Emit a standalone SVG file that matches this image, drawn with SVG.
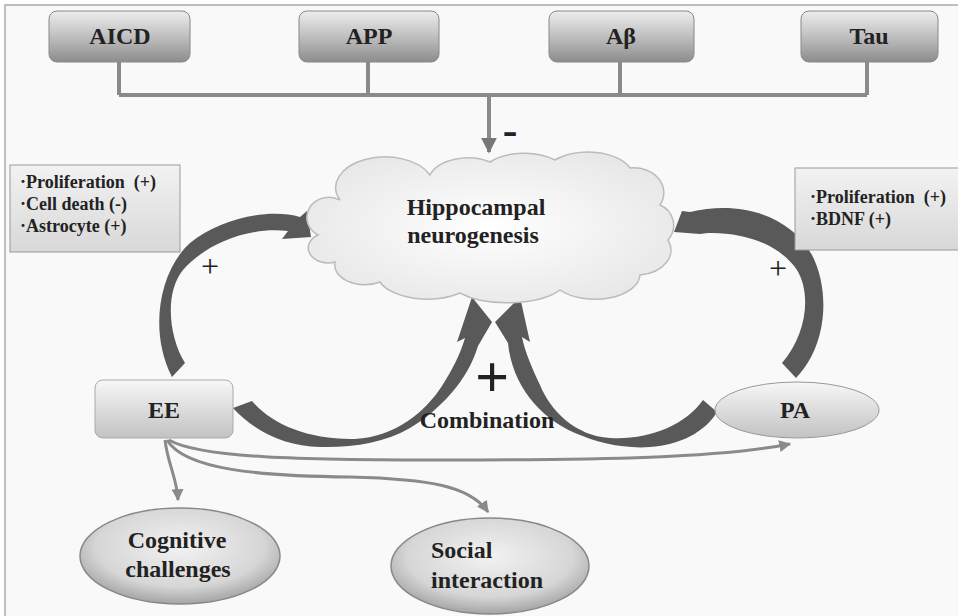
<svg xmlns="http://www.w3.org/2000/svg" width="958" height="616" viewBox="0 0 958 616">
<defs>
<linearGradient id="gTop" x1="0" y1="0" x2="0" y2="1">
<stop offset="0" stop-color="#ededed"/><stop offset="0.45" stop-color="#c4c4c4"/><stop offset="1" stop-color="#8c8c8c"/>
</linearGradient>
<linearGradient id="gLight" x1="0" y1="0" x2="0" y2="1">
<stop offset="0" stop-color="#f7f7f7"/><stop offset="1" stop-color="#c2c2c2"/>
</linearGradient>
<linearGradient id="gInfo" x1="0" y1="0" x2="0" y2="1">
<stop offset="0" stop-color="#f2f2f2"/><stop offset="1" stop-color="#d8d8d8"/>
</linearGradient>
<radialGradient id="gBall" cx="0.5" cy="0.4" r="0.6">
<stop offset="0" stop-color="#f2f2f2"/><stop offset="0.7" stop-color="#d6d6d6"/><stop offset="1" stop-color="#a4a4a4"/>
</radialGradient>
<radialGradient id="gCloud" cx="0.5" cy="0.5" r="0.6">
<stop offset="0" stop-color="#ffffff"/><stop offset="1" stop-color="#e6e6e6"/>
</radialGradient>
<marker id="ah" viewBox="0 0 10 10" refX="9" refY="5" markerWidth="4" markerHeight="4" orient="auto" markerUnits="strokeWidth">
<path d="M0,0 L10,5 L0,10 Z" fill="#8a8a8a"/>
</marker>
<marker id="ahBig" viewBox="0 0 10 10" refX="9" refY="5" markerWidth="4" markerHeight="4" orient="auto" markerUnits="strokeWidth">
<path d="M0,0 L10,5 L0,10 Z" fill="#777"/>
</marker>
</defs>
<style>
.lbl{font-family:"Liberation Serif","Times New Roman",serif;font-weight:bold;fill:#222;}
.big{font-size:24px;text-anchor:middle;}
.info{font-size:18px;}
.sign{font-family:"Liberation Serif","Times New Roman",serif;fill:#222;text-anchor:middle;}
.thick{fill:#595959;}
.thin{fill:none;stroke:#8a8a8a;stroke-width:3;}
.bus{fill:none;stroke:#8a8a8a;stroke-width:4;}
</style>
<rect x="5" y="5" width="960" height="620" fill="#f9f9f9" stroke="#aaa" stroke-width="1.5"/>

<g id="connectors">
<path class="bus" d="M119,62 V95 M368,62 V95 M620,62 V95 M867,62 V95 M119,95 H867"/>
<path class="bus" d="M489,95 V152" marker-end="url(#ahBig)"/>
<path class="thin" d="M165,440 C168,465 177,478 178,500" marker-end="url(#ah)"/>
<path class="thin" d="M167,440 C185,470 260,476 350,477 C430,479 470,486 488,512" marker-end="url(#ah)"/>
<path class="thin" d="M169,440 C200,458 300,460 450,460 C600,460 720,458 790,444" marker-end="url(#ah)"/>
<path class="thick" d="M185,363 C168,335 165,292 183,270 C200,250 240,226 288,231 L282,239 L311,237 L307,211 L300,217 C270,208 220,218 190,243 C160,270 148,330 172,377 Z"/>
<path class="thick" d="M782,363 C806,335 812,295 797,270 C780,245 745,232 708,233 L700,234 L674,232 L682,211 L690,212 C740,200 790,215 812,255 C830,290 828,345 796,378 Z"/>
<path class="thick" d="M252,401 C272,425 310,440 355,439 C395,437 425,412 442,386 C452,370 460,355 465,338 L457,342 L472,297 L492,322 L478,346 C468,380 440,410 410,428 C385,443 350,448 320,447 C285,446 255,432 233,408 Z"/>
<path class="thick" d="M703,400 C685,425 650,440 610,438 C575,436 550,410 540,385 C532,368 525,352 522,337 L530,342 L520,297 L495,322 L508,343 C512,385 540,418 575,433 C598,443 625,449 650,447 C680,445 705,432 717,412 Z"/>
</g>

<g id="node-aicd">
<rect x="49" y="11" width="141" height="51" rx="8" fill="url(#gTop)" stroke="#888"/>
<text class="lbl big" x="120" y="44">AICD</text>
</g>
<g id="node-app">
<rect x="299" y="11" width="140" height="51" rx="8" fill="url(#gTop)" stroke="#888"/>
<text class="lbl big" x="369" y="44">APP</text>
</g>
<g id="node-abeta">
<rect x="549" y="11" width="145" height="51" rx="8" fill="url(#gTop)" stroke="#888"/>
<text class="lbl big" x="621" y="44">Aβ</text>
</g>
<g id="node-tau">
<rect x="801" y="11" width="137" height="51" rx="8" fill="url(#gTop)" stroke="#888"/>
<text class="lbl big" x="869" y="44">Tau</text>
</g>

<g id="node-hippocampal">
<path d="M318,235 A22,20 0 0 1 340,200 A45,28 0 0 1 430,175 A40,25 0 0 1 490,162 A45,25 0 0 1 555,160 A45,25 0 0 1 630,168 A30,25 0 0 1 660,205 A22,22 0 0 1 668,240 A35,25 0 0 1 640,275 A45,25 0 0 1 560,290 A60,25 0 0 1 460,293 A50,25 0 0 1 380,282 A30,20 0 0 1 335,262 A20,15 0 0 1 318,235 Z" fill="url(#gCloud)" stroke="#bbb" stroke-width="1.5"/>
<text class="lbl big" x="476" y="215">Hippocampal</text>
<text class="lbl big" x="473" y="243">neurogenesis</text>
</g>

<g id="node-ee-effects">
<rect x="10" y="165" width="170" height="87" fill="url(#gInfo)" stroke="#9a9a9a"/>
<text class="lbl info" x="20" y="188" xml:space="preserve">·Proliferation  (+)</text>
<text class="lbl info" x="20" y="210">·Cell death (-)</text>
<text class="lbl info" x="20" y="232">·Astrocyte (+)</text>
</g>

<g id="node-pa-effects">
<rect x="795" y="168" width="170" height="82" fill="url(#gInfo)" stroke="#9a9a9a"/>
<text class="lbl info" x="810" y="203" xml:space="preserve">·Proliferation  (+)</text>
<text class="lbl info" x="810" y="225">·BDNF (+)</text>
</g>

<g id="node-ee">
<rect x="95" y="380" width="138" height="58" rx="8" fill="url(#gLight)" stroke="#aaa"/>
<text class="lbl big" x="164" y="418">EE</text>
</g>

<g id="node-pa">
<ellipse cx="797" cy="410" rx="82" ry="28" fill="url(#gLight)" stroke="#999"/>
<text class="lbl big" x="795" y="418">PA</text>
</g>

<g id="node-cognitive">
<ellipse cx="180" cy="556" rx="100" ry="48" fill="url(#gBall)" stroke="#888" stroke-width="1.5"/>
<text class="lbl big" x="177" y="548">Cognitive</text>
<text class="lbl big" x="178" y="577">challenges</text>
</g>

<g id="node-social">
<ellipse cx="490" cy="566" rx="99" ry="48" fill="url(#gBall)" stroke="#888" stroke-width="1.5"/>
<text class="lbl" font-size="24" x="431" y="558">Social</text>
<text class="lbl" font-size="24" x="431" y="588">interaction</text>
</g>

<g id="labels">
<text class="sign" font-size="44" font-weight="bold" x="510" y="145">-</text>
<text class="sign" font-size="32" x="210" y="277">+</text>
<text class="sign" font-size="32" x="778" y="279">+</text>
<text class="sign" font-size="60" font-weight="bold" x="492" y="397">+</text>
<text class="lbl big" x="487" y="428">Combination</text>
</g>
</svg>
